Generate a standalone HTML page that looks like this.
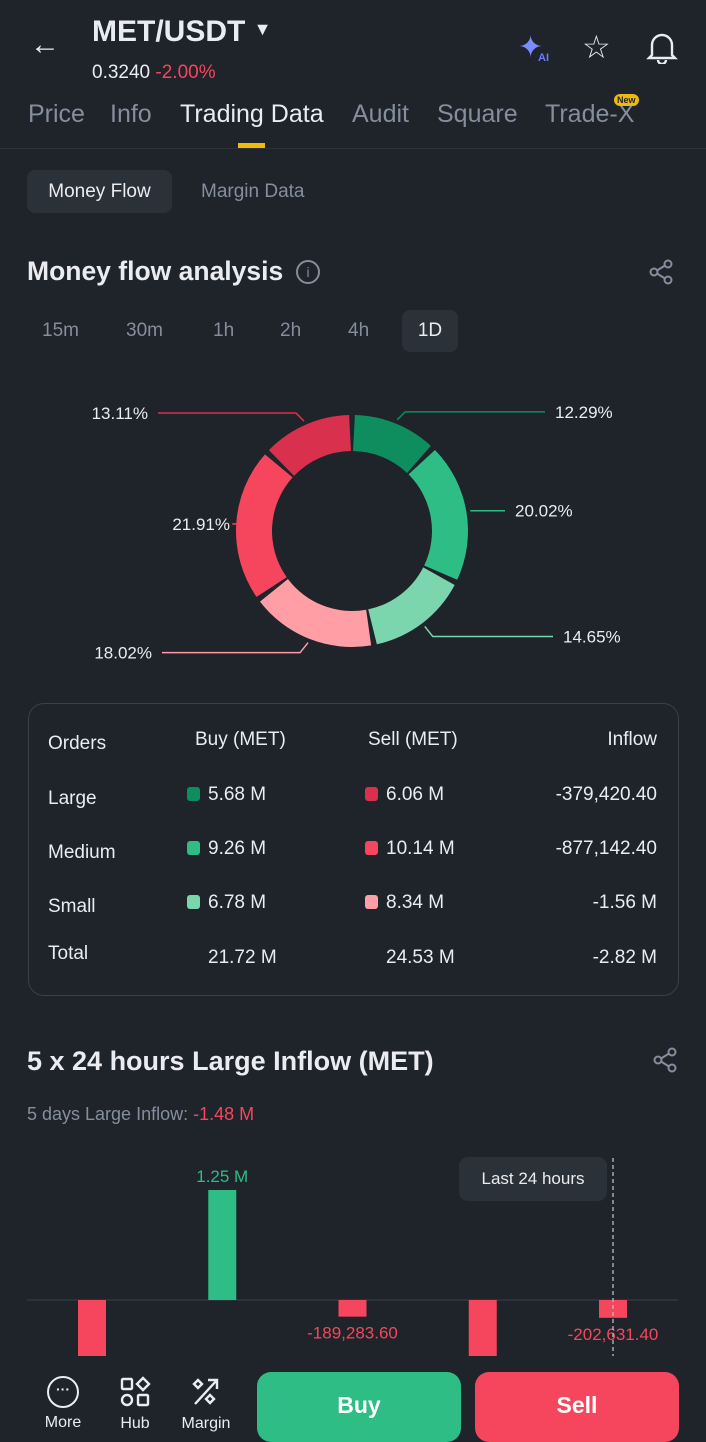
<!DOCTYPE html>
<html><head><meta charset="utf-8">
<style>
*{margin:0;padding:0;box-sizing:border-box}
body{width:706px;height:1433px;background:#1f232a;font-family:"Liberation Sans",sans-serif;color:#eaecef;position:relative;overflow:hidden}
.a{position:absolute;white-space:nowrap}
.g{color:#848e9c}
</style></head><body>
<div class="a" style="left:30px;top:30px;font-size:30px;line-height:30px">&#8592;</div>
<div class="a" style="left:92px;top:15px;font-size:30px;font-weight:bold">MET/USDT <span style="font-size:18px;vertical-align:6px">&#9660;</span></div>
<div class="a" style="left:92px;top:62px;font-size:19px">0.3240 <span style="color:#f6465d">-2.00%</span></div>
<div class="a" style="left:518px;top:30px;font-size:30px;color:#7b8cff">&#10022;<span style="font-size:11px;font-weight:bold;color:#6b7bff;position:absolute;left:20px;top:22px">AI</span></div>
<div class="a" style="left:582px;top:28px;font-size:32px">&#9734;</div>
<svg class="a" style="left:646px;top:30px" width="32" height="34" viewBox="0 0 32 34"><path d="M6 25 V15 a10 10 0 0 1 20 0 V25 L29 28 H3 Z M12 30 a4 4 0 0 0 8 0" fill="none" stroke="#eaecef" stroke-width="2.4"/></svg>
<div class="a g" style="left:28px;top:100px;font-size:25px">Price</div>
<div class="a g" style="left:110px;top:100px;font-size:25px">Info</div>
<div class="a" style="left:180px;top:100px;font-size:25px">Trading Data</div>
<div class="a" style="left:238px;top:143px;width:27px;height:5px;background:#f0b90b"></div>
<div class="a g" style="left:352px;top:100px;font-size:25px">Audit</div>
<div class="a g" style="left:437px;top:100px;font-size:25px">Square</div>
<div class="a g" style="left:545px;top:100px;font-size:25px">Trade-X</div>
<div class="a" style="left:614px;top:94px;font-size:9px;background:#f0b90b;color:#1e2329;border-radius:7px;padding:1px 3px;font-weight:bold">New</div>
<div class="a" style="left:0;top:148px;width:706px;height:1px;background:#2b3139"></div>
<div class="a" style="left:27px;top:170px;width:145px;height:43px;background:#2b3139;border-radius:8px;font-size:19px;line-height:43px;text-align:center">Money Flow</div>
<div class="a g" style="left:201px;top:181px;font-size:19px">Margin Data</div>
<div class="a" style="left:27px;top:256px;font-size:26.5px;font-weight:bold">Money flow analysis</div>
<div class="a g" style="left:296px;top:260px;width:24px;height:24px;border:2px solid #848e9c;border-radius:50%;font-size:14px;text-align:center;line-height:20px">i</div>
<svg class="a" style="left:648px;top:259px" width="26" height="26" viewBox="0 0 26 26"><g fill="none" stroke="#848e9c" stroke-width="2"><circle cx="20" cy="5" r="3.5"/><circle cx="6" cy="13" r="3.5"/><circle cx="20" cy="21" r="3.5"/><path d="M9 11.5 L17 6.5 M9 14.5 L17 19.5"/></g></svg>
<div class="a g" style="left:42px;top:320px;font-size:19px">15m</div>
<div class="a g" style="left:126px;top:320px;font-size:19px">30m</div>
<div class="a g" style="left:213px;top:320px;font-size:19px">1h</div>
<div class="a g" style="left:280px;top:320px;font-size:19px">2h</div>
<div class="a g" style="left:348px;top:320px;font-size:19px">4h</div>
<div class="a" style="left:402px;top:310px;width:56px;height:42px;background:#2b3139;border-radius:8px;font-size:19px;line-height:42px;text-align:center">1D</div>

<svg class="a" id="donut" style="left:0;top:380px" width="706" height="300"></svg>

<div class="a" style="left:28px;top:703px;width:651px;height:293px;border:1.5px solid #3a4049;border-radius:16px"></div>
<div id="table"></div>

<div class="a" style="left:27px;top:1046px;font-size:27px;font-weight:bold">5 x 24 hours Large Inflow (MET)</div>
<svg class="a" style="left:652px;top:1047px" width="26" height="26" viewBox="0 0 26 26"><g fill="none" stroke="#848e9c" stroke-width="2"><circle cx="20" cy="5" r="3.5"/><circle cx="6" cy="13" r="3.5"/><circle cx="20" cy="21" r="3.5"/><path d="M9 11.5 L17 6.5 M9 14.5 L17 19.5"/></g></svg>
<div class="a g" style="left:27px;top:1104px;font-size:18px">5 days Large Inflow: <span style="color:#f6465d">-1.48 M</span></div>

<svg class="a" id="bars" style="left:0;top:1140px" width="706" height="216"></svg>
<div class="a" style="left:459px;top:1157px;width:148px;height:44px;background:#2b3139;border-radius:9px;font-size:17px;line-height:44px;text-align:center">Last 24 hours</div>

<div class="a" style="left:40px;top:1376px;width:46px;text-align:center">
<div style="width:32px;height:32px;border:2.5px solid #eaecef;border-radius:50%;margin:0 auto;font-size:14px;line-height:22px;font-weight:bold">···</div><div style="font-size:16px;margin-top:6px">More</div></div>
<div class="a" style="left:112px;top:1376px;width:46px;text-align:center">
<svg width="32" height="32" viewBox="0 0 32 32"><g fill="none" stroke="#eaecef" stroke-width="2.4"><rect x="3" y="3" width="10" height="10" rx="1"/><path d="M24 2 L30 8 L24 14 L18 8Z"/><circle cx="8" cy="24" r="5"/><rect x="19" y="19" width="10" height="10" rx="1"/></g></svg><div style="font-size:16px;margin-top:2px">Hub</div></div>
<div class="a" style="left:178px;top:1376px;width:56px;text-align:center">
<svg width="32" height="32" viewBox="0 0 32 32"><g fill="none" stroke="#eaecef" stroke-width="2.4"><path d="M5 28 L27 4 M18 4 H27 V13"/><path d="M8 4 L12 8 L8 12 L4 8Z"/><path d="M20 19 L24 23 L20 27 L16 23Z"/></g></svg><div style="font-size:16px;margin-top:2px">Margin</div></div>
<div class="a" style="left:257px;top:1372px;width:204px;height:70px;background:#2ebd85;border-radius:14px;font-size:23px;font-weight:bold;text-align:center;line-height:66px;color:#fff">Buy</div>
<div class="a" style="left:475px;top:1372px;width:204px;height:70px;background:#f6465d;border-radius:14px;font-size:23px;font-weight:bold;text-align:center;line-height:66px;color:#fff">Sell</div>

<script>
// Donut data
const donutLabels = ["12.29%","20.02%","14.65%","18.02%","21.91%","13.11%"];
const donutValues = [12.29,20.02,14.65,18.02,21.91,13.11];
const donutNames = ["large-buy","medium-buy","small-buy","small-sell","medium-sell","large-sell"];
const donutColors = ["#0e8d5f","#2ebd85","#7bd6ae","#ff9ea4","#f6465d","#d9304e"];
// Bar data (millions)
const barValues = [-1.17, 1.25, -0.18928360, -1.17, -0.20263140];
const barLabels = ["", "1.25 M", "-189,283.60", "", "-202,631.40"];
// Table data
const rowNames = ["Large","Medium","Small"];
const buyVals = ["5.68 M","9.26 M","6.78 M"];
const sellVals = ["6.06 M","10.14 M","8.34 M"];
const inflowVals = ["-379,420.40","-877,142.40","-1.56 M"];
const totals = ["21.72 M","24.53 M","-2.82 M"];

const NS="http://www.w3.org/2000/svg";
function mk(tag,attrs,parent){const e=document.createElementNS(NS,tag);for(const k in attrs)e.setAttribute(k,attrs[k]);parent.appendChild(e);return e;}

// donut
(function(){
const svg=document.getElementById('donut');
const cx=352,cy=151,R=116,r=80,gap=0.025;
const tot=donutValues.reduce((a,b)=>a+b,0);
let a0=-Math.PI/2;
const pt=(rad,a)=>[cx+rad*Math.cos(a),cy+rad*Math.sin(a)];
donutValues.forEach((v,i)=>{
  const a1=a0+v/tot*2*Math.PI;
  const s=a0+gap,e=a1-gap;
  const [x1,y1]=pt(R,s),[x2,y2]=pt(R,e),[x3,y3]=pt(r,e+0.012),[x4,y4]=pt(r,s-0.012);
  const lg=(e-s)>Math.PI?1:0;
  const p=mk('path',{d:`M${x1} ${y1} A${R} ${R} 0 ${lg} 1 ${x2} ${y2} L${x3} ${y3} A${r} ${r} 0 ${lg} 0 ${x4} ${y4}Z`,fill:donutColors[i]},svg);
  
  
  const m=(a0+a1)/2;
  const [lx,ly]=pt(R+4,m);
  const right=Math.cos(m)>=0;
  const ey=ly+(Math.sin(m)<-0.5?-8:(Math.sin(m)>0.5?10:0));
  const ex=lx+(right?8:-8)*(Math.abs(Math.sin(m))>0.5?1:0);
  const endX=right?(ey<100?545:(ey>200?553:505)):(ey<100?158:(ey>200?162:240));
  const ln=mk('polyline',{points:`${lx},${ly} ${ex},${ey} ${endX},${ey}`,fill:'none',stroke:donutColors[i],'stroke-width':1.5},svg);
  
  
  const t=mk('text',{x:right?endX+10:endX-10,y:ey+6,fill:'#eaecef','font-size':17,'text-anchor':right?'start':'end','font-family':'Liberation Sans'},svg);
  t.textContent=donutLabels[i];
  
  
  a0=a1;
});
})();

// table
(function(){
const host=document.getElementById('table');
function cell(txt,l,t,name,opts){
  const d=document.createElement('div');d.className='a';
  d.style.left=l+'px';d.style.top=t+'px';d.style.fontSize='19px';
  if(opts&&opts.right){d.style.left='auto';d.style.right=(706-l)+'px';}
  if(opts&&opts.sw){const s=document.createElement('span');s.style.cssText='display:inline-block;width:13px;height:14px;border-radius:3px;margin-right:8px;vertical-align:-1px;background:'+opts.sw;d.appendChild(s);}
  d.appendChild(document.createTextNode(txt));
  
  
  host.appendChild(d);
}
cell('Orders',48,733,'header-orders');
cell('Buy (MET)',195,729,'header-buy');
cell('Sell (MET)',368,729,'header-sell');
cell('Inflow',657,729,'header-inflow',{right:1});
const ys=[786,840,894];
rowNames.forEach((n,i)=>{
  cell(n,48,ys[i]+2,'row-label-'+n.toLowerCase());
  cell(buyVals[i],187,ys[i]-2,'buy-'+n.toLowerCase(),{sw:donutColors[i]});
  cell(sellVals[i],365,ys[i]-2,'sell-'+n.toLowerCase(),{sw:donutColors[5-i]});
  cell(inflowVals[i],657,ys[i]-2,'inflow-'+n.toLowerCase(),{right:1});
});
cell('Total',48,943,'row-label-total');
cell(totals[0],208,947,'buy-total');
cell(totals[1],386,947,'sell-total');
cell(totals[2],657,947,'inflow-total',{right:1});
})();

// bars
(function(){
const svg=document.getElementById('bars');
const base=160, pxPerM=88, x0=92, step=130.25, w=28;
const y=v=>base-v*pxPerM;
const ax=mk('line',{x1:27,x2:678,y1:base,y2:base,stroke:'#3a4049','stroke-width':1},svg);


barValues.forEach((v,i)=>{
  const cx=x0+i*step;
  const top=Math.min(y(v),base), h=Math.abs(y(v)-base);
  const b=mk('rect',{x:cx-w/2,y:top,width:w,height:h,fill:v>=0?'#2ebd85':'#f6465d'},svg);
  
  
  if(barLabels[i]){
    const ty=v>=0?top-8:base+h+22;
    const t=mk('text',{x:cx,y:ty,fill:v>=0?'#2ebd85':'#f6465d','font-size':17,'text-anchor':'middle','font-family':'Liberation Sans'},svg);
    t.textContent=barLabels[i];
    
    
  }
});
const dl=mk('line',{x1:x0+4*step,x2:x0+4*step,y1:18,y2:216,stroke:'#b7bdc6','stroke-width':1.3,'stroke-dasharray':'4 3'},svg);


})();
</script>
</body></html>
